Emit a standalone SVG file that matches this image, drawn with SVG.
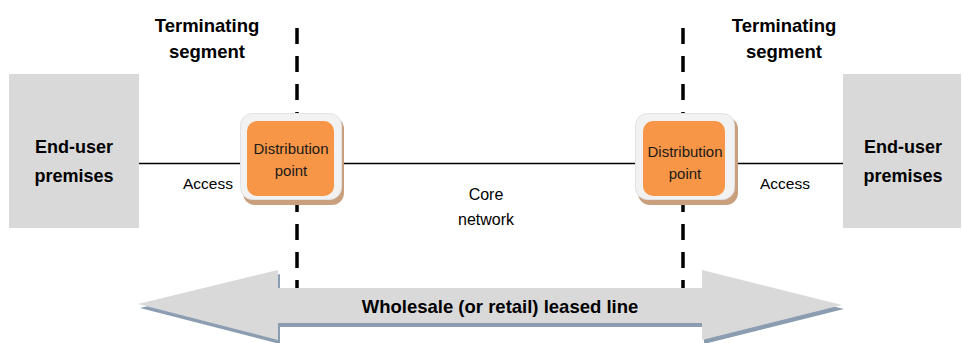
<svg xmlns="http://www.w3.org/2000/svg" width="963" height="343" viewBox="0 0 963 343">
  <style>
    .prem { fill: #D9D9D9; }
    .bold { font-family: "Liberation Sans", Arial, sans-serif; font-weight: bold; fill: #000; text-anchor: middle; }
    .reg { font-family: "Liberation Sans", Arial, sans-serif; fill: #000; text-anchor: middle; }
    .dash { stroke: #000; stroke-width: 3.5; stroke-dasharray: 16 12; fill: none; }
    .conn { stroke: #000; stroke-width: 1.5; fill: none; }
    .frame { fill: #F2F2F2; stroke: #E2E2E2; stroke-width: 1; }
    .shadow { fill: #C9A07E; }
    .core { fill: #F79646; }
    .dp { font-family: "Liberation Sans", Arial, sans-serif; font-size: 15px; fill: #1a1a1a; text-anchor: middle; }
  </style>

  <!-- dashed segment boundaries -->
  <g id="boundaries">
    <line class="dash" x1="297" y1="28" x2="297" y2="288"/>
    <line class="dash" x1="683" y1="28" x2="683" y2="288"/>
  </g>

  <!-- big double-headed arrow -->
  <g id="leased-line">
    <polygon fill="#8C9DB2" transform="translate(2,4)" points="138,304 278,270 278,288 702,288 702,270 842,305 702,340 702,323 278,323 278,340"/>
    <polygon fill="#D9D9D9" points="138,304 278,270 278,288 702,288 702,270 842,305 702,340 702,323 278,323 278,340"/>
    <text class="bold" x="500" y="313" font-size="18.5">Wholesale (or retail) leased line</text>
  </g>

  <g id="connectors">
    <line class="conn" x1="139" y1="163.5" x2="241" y2="163.5"/>
    <line class="conn" x1="341" y1="163.5" x2="636" y2="163.5"/>
    <line class="conn" x1="734" y1="163.5" x2="843" y2="163.5"/>
  </g>

  <g id="premises-left">
    <rect class="prem" x="9" y="74" width="130" height="154"/>
    <text class="bold" x="74" y="153" font-size="18">End-user</text>
    <text class="bold" x="74" y="182" font-size="18">premises</text>
  </g>

  <g id="premises-right">
    <rect class="prem" x="843" y="74" width="118" height="154"/>
    <text class="bold" x="903" y="153" font-size="18">End-user</text>
    <text class="bold" x="903" y="182" font-size="18">premises</text>
  </g>

  <g id="dp-left">
    <rect class="shadow" x="243" y="117" width="101" height="88" rx="12"/>
    <rect class="frame" x="240.5" y="113.5" width="101" height="86" rx="12"/>
    <rect class="core" x="247" y="121" width="87" height="75" rx="10"/>
    <text class="dp" x="291" y="154">Distribution</text>
    <text class="dp" x="291" y="176">point</text>
  </g>

  <g id="dp-right">
    <rect class="shadow" x="638" y="117" width="100" height="88" rx="12"/>
    <rect class="frame" x="635.5" y="113.5" width="99" height="86" rx="12"/>
    <rect class="core" x="643" y="121" width="82" height="75" rx="10"/>
    <text class="dp" x="685" y="157">Distribution</text>
    <text class="dp" x="685" y="179">point</text>
  </g>

  <g id="labels">
    <text class="bold" x="207" y="32" font-size="18.5">Terminating</text>
    <text class="bold" x="207" y="58" font-size="18.5">segment</text>
    <text class="bold" x="784" y="32" font-size="18.5">Terminating</text>
    <text class="bold" x="784" y="58" font-size="18.5">segment</text>
    <text class="reg" x="208" y="189" font-size="15.5">Access</text>
    <text class="reg" x="785" y="189" font-size="15.5">Access</text>
    <text class="reg" x="486" y="200" font-size="16">Core</text>
    <text class="reg" x="486" y="225" font-size="16">network</text>
  </g>
</svg>
